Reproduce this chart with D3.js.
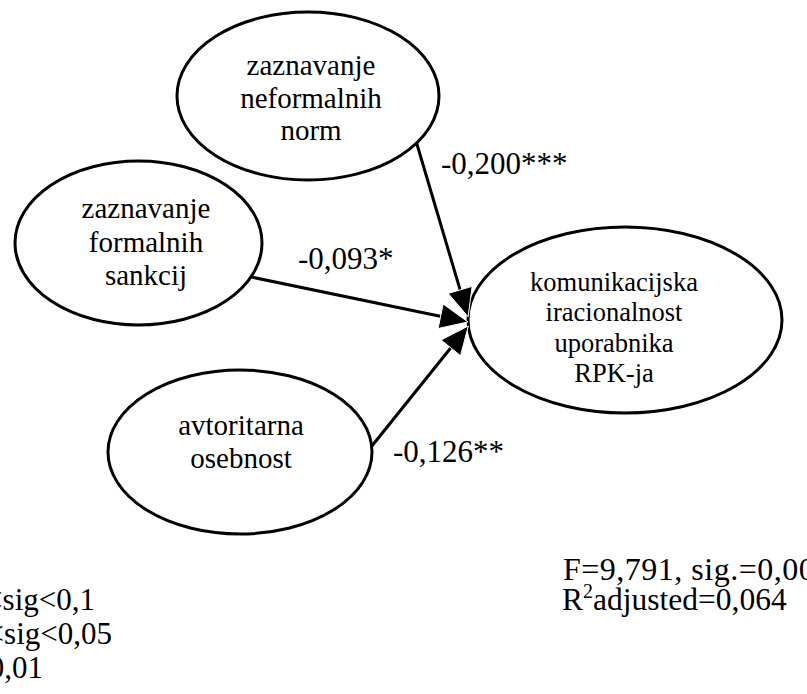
<!DOCTYPE html>
<html><head><meta charset="utf-8">
<script src="https://cdn.jsdelivr.net/npm/d3@7"></script>
<style>html,body{margin:0;padding:0;background:#fff;overflow:hidden}</style>
</head><body><svg id="c" width="807" height="694"></svg>
<script>
// ---- data ----
const constructs = [
  ["zaznavanje", "neformalnih", "norm"],
  ["zaznavanje", "formalnih", "sankcij"],
  ["avtoritarna", "osebnost"],
  ["komunikacijska", "iracionalnost", "uporabnika", "RPK-ja"]
];
const coefficients = ["-0,200***", "-0,093*", "-0,126**"];
const modelStats = ["F=9,791, sig.=0,000", "adjusted=0,064"];
const legendLines = ["*0,05<sig<0,1", "**0,01<sig<0,05", "***sig<0,01"];

// ---- layout ----
const nodeLayout = [
  {cx: 308, cy: 96, rx: 131, ry: 84, tx: 311, ty: 75, fs: 29, lh: 32.5},
  {cx: 138.5, cy: 243, rx: 123.5, ry: 82, tx: 146, ty: 218, fs: 29, lh: 33.5},
  {cx: 240, cy: 452, rx: 132, ry: 82, tx: 241, ty: 435, fs: 29, lh: 33},
  {cx: 625, cy: 320, rx: 157, ry: 93, tx: 614, ty: 291, fs: 26.5, lh: 30.3}
];
const edgeLayout = [
  {src: 0, sa: 34, ta: 182, lx: 441, ly: 174},
  {src: 1, sa: 24.5, ta: 178.8, lx: 298, ly: 269},
  {src: 2, sa: -4, ta: 176.3, lx: 393, ly: 462}
];
const FONT = "'Liberation Serif','Times New Roman',serif";
const svg = d3.select("#c");
const rad = d => d * Math.PI / 180;
const onEllipse = (n, a) => [n.cx + n.rx * Math.cos(rad(a)), n.cy + n.ry * Math.sin(rad(a))];

// ellipses
svg.selectAll("ellipse").data(nodeLayout).join("ellipse")
  .attr("cx", d => d.cx).attr("cy", d => d.cy)
  .attr("rx", d => d.rx).attr("ry", d => d.ry)
  .attr("fill", "none").attr("stroke", "#000").attr("stroke-width", 3);

// node labels
const ng = svg.selectAll("g.node").data(constructs).join("g").attr("class", "node");
ng.each(function(lines, i) {
  const L = nodeLayout[i];
  d3.select(this).selectAll("text").data(lines).join("text")
    .attr("x", L.tx).attr("y", (d, j) => L.ty + j * L.lh)
    .attr("text-anchor", "middle")
    .attr("font-family", FONT).attr("font-size", L.fs)
    .attr("fill", "#000").text(d => d);
});

// edges
const target = nodeLayout[3];
const HL = 28, HW = 12.5;
edgeLayout.forEach((e, i) => {
  const S = onEllipse(nodeLayout[e.src], e.sa);
  const T = onEllipse(target, e.ta);
  const dx = T[0] - S[0], dy = T[1] - S[1], len = Math.hypot(dx, dy);
  const ux = dx / len, uy = dy / len, nx = -uy, ny = ux;
  const B = [T[0] - HL * ux, T[1] - HL * uy];
  svg.append("line")
    .attr("x1", S[0]).attr("y1", S[1])
    .attr("x2", B[0] + 2 * ux).attr("y2", B[1] + 2 * uy)
    .attr("stroke", "#000").attr("stroke-width", 3);
  svg.append("path")
    .attr("d", d3.line()([T, [B[0] + HW * nx, B[1] + HW * ny], [B[0] - HW * nx, B[1] - HW * ny]]) + "Z")
    .attr("fill", "#000").attr("stroke", "#fff").attr("stroke-width", 1);
  svg.append("text")
    .attr("x", e.lx).attr("y", e.ly)
    .attr("font-family", FONT).attr("font-size", 31)
    .attr("fill", "#000").text(coefficients[i]);
});

// model stats
svg.append("text").attr("x", 563).attr("y", 580)
  .attr("font-family", FONT).attr("font-size", 32).attr("letter-spacing", 0.5)
  .text(modelStats[0]);
const r2 = svg.append("text").attr("x", 562).attr("y", 610)
  .attr("font-family", FONT).attr("font-size", 31.5);
r2.append("tspan").text("R");
r2.append("tspan").attr("dy", -12).attr("font-size", 20).text("2");
r2.append("tspan").attr("dy", 12).text(modelStats[1]);

// legend (clipped at left edge)
const legendRight = [95, 112, 43];
svg.selectAll("text.leg").data(legendLines).join("text").attr("class", "leg")
  .attr("x", (d, i) => legendRight[i]).attr("y", (d, i) => 610 + i * 34)
  .attr("text-anchor", "end")
  .attr("font-family", FONT).attr("font-size", 31).text(d => d);
</script></body></html>
